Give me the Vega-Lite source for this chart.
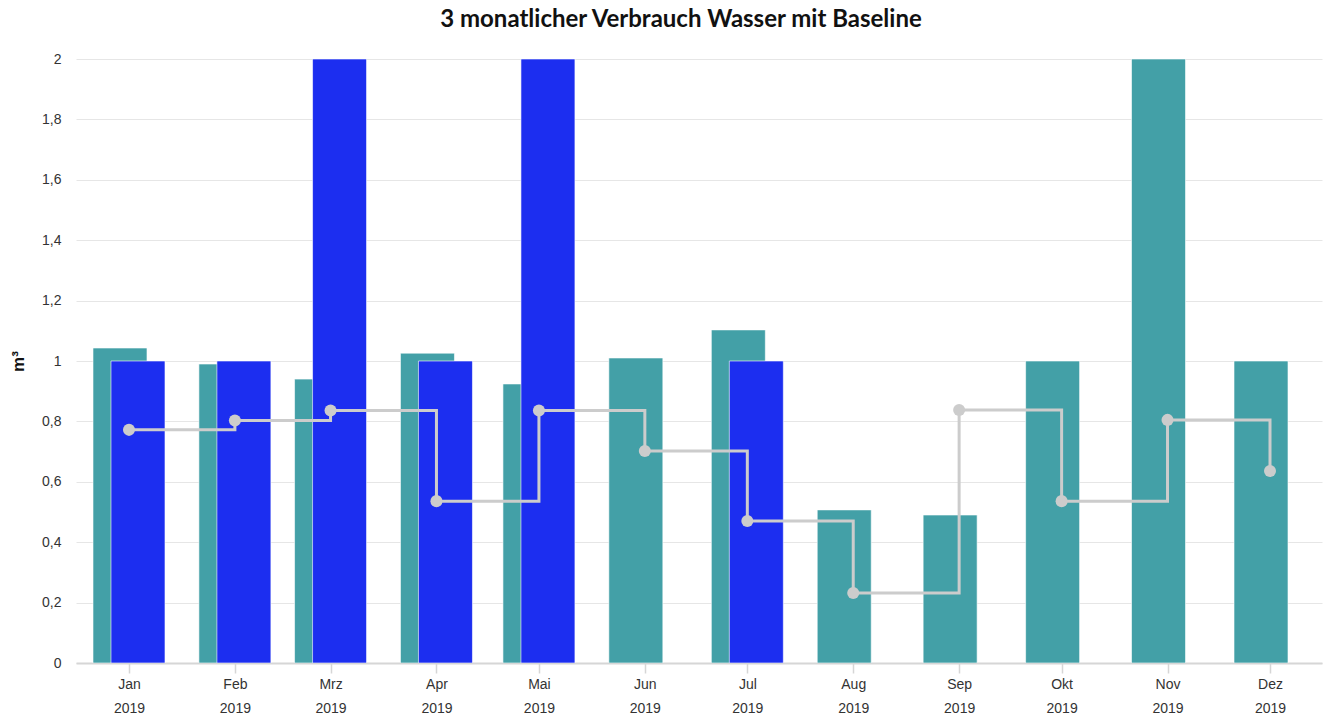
{
  "$schema": "https://vega.github.io/schema/vega-lite/v6.json",
  "width": 1246,
  "height": 604,
  "autosize": {"type": "none"},
  "padding": {"left": 76, "top": 59, "right": 1, "bottom": 57},
  "background": "#ffffff",
  "config": {"view": {"stroke": null}},
  "title": {
    "text": "3 monatlicher Verbrauch Wasser mit Baseline",
    "font": "Lato",
    "fontSize": 24,
    "fontWeight": "bold",
    "color": "#111111",
    "anchor": "middle",
    "dx": -18,
    "offset": 20
  },
  "data": {
    "values": [
      {"monat": "2019-01-01", "verbrauch": 1.043, "vergleich": 1.0, "baseline": 0.772},
      {"monat": "2019-02-01", "verbrauch": 0.99, "vergleich": 1.0, "baseline": 0.803},
      {"monat": "2019-03-01", "verbrauch": 0.94, "vergleich": 2.0, "baseline": 0.836},
      {"monat": "2019-04-01", "verbrauch": 1.026, "vergleich": 1.0, "baseline": 0.536},
      {"monat": "2019-05-01", "verbrauch": 0.924, "vergleich": 2.0, "baseline": 0.836},
      {"monat": "2019-06-01", "verbrauch": 1.01, "vergleich": null, "baseline": 0.702},
      {"monat": "2019-07-01", "verbrauch": 1.103, "vergleich": 1.0, "baseline": 0.47},
      {"monat": "2019-08-01", "verbrauch": 0.507, "vergleich": null, "baseline": 0.232},
      {"monat": "2019-09-01", "verbrauch": 0.49, "vergleich": null, "baseline": 0.838},
      {"monat": "2019-10-01", "verbrauch": 1.0, "vergleich": null, "baseline": 0.536},
      {"monat": "2019-11-01", "verbrauch": 2.0, "vergleich": null, "baseline": 0.805},
      {"monat": "2019-12-01", "verbrauch": 1.0, "vergleich": null, "baseline": 0.636}
    ]
  },
  "encoding": {
    "x": {
      "field": "monat",
      "type": "temporal",
      "scale": {
        "type": "utc",
        "padding": 0,
        "domain": [
          {"year": 2018, "month": 12, "date": 16, "hours": 11, "minutes": 40, "utc": true},
          {"year": 2019, "month": 12, "date": 16, "hours": 5, "minutes": 17, "utc": true}
        ]
      },
      "axis": {
        "title": null,
        "grid": false,
        "tickCount": {"interval": "month", "step": 1},
        "labelExpr": "[['Jan','Feb','Mrz','Apr','Mai','Jun','Jul','Aug','Sep','Okt','Nov','Dez'][utcmonth(datum.value)], utcFormat(datum.value, '%Y')]",
        "labelFont": "Liberation Sans",
        "labelFontSize": 14,
        "labelColor": "#333333",
        "labelLineHeight": 24,
        "labelPadding": 4,
        "labelAngle": 0,
        "labelAlign": "center",
        "labelBaseline": "top",
        "labelOverlap": false,
        "labelFlush": false,
        "domainColor": "#d6d6d6",
        "domainWidth": 2,
        "tickColor": "#d6d6d6",
        "tickWidth": 1.5,
        "tickSize": 10
      }
    }
  },
  "layer": [
    {
      "mark": {"type": "bar", "color": "#43a0a7", "width": 54, "xOffset": -9, "stroke": "#ffffff", "strokeWidth": 0.6, "clip": true},
      "encoding": {
        "y": {
          "field": "verbrauch",
          "type": "quantitative",
          "scale": {"domain": [0, 2], "nice": false},
          "axis": {
            "title": "m³",
            "titleFont": "Liberation Sans",
            "titleFontSize": 17,
            "titleFontWeight": "bold",
            "titleColor": "#111111",
            "titleX": -58,
            "titleY": 302,
            "titleBaseline": "middle",
            "values": [0, 0.2, 0.4, 0.6, 0.8, 1, 1.2, 1.4, 1.6, 1.8, 2],
            "labelExpr": "replace(format(datum.value, '~g'), '.', ',')",
            "labelFont": "Liberation Sans",
            "labelFontSize": 14,
            "labelColor": "#333333",
            "labelPadding": 15,
            "ticks": false,
            "tickSize": 0,
            "domain": false,
            "grid": true,
            "gridColor": "#e6e6e6",
            "gridWidth": 1
          }
        }
      }
    },
    {
      "mark": {"type": "bar", "color": "#1c2ef0", "width": 54, "xOffset": 9, "stroke": "#ffffff", "strokeWidth": 0.6, "clip": true},
      "encoding": {
        "y": {"field": "vergleich", "type": "quantitative"}
      }
    },
    {
      "mark": {"type": "line", "interpolate": "step-after", "color": "#cccccc", "strokeWidth": 3},
      "encoding": {
        "y": {"field": "baseline", "type": "quantitative"}
      }
    },
    {
      "mark": {"type": "circle", "color": "#cccccc", "opacity": 1, "size": 145},
      "encoding": {
        "y": {"field": "baseline", "type": "quantitative"}
      }
    }
  ]
}
